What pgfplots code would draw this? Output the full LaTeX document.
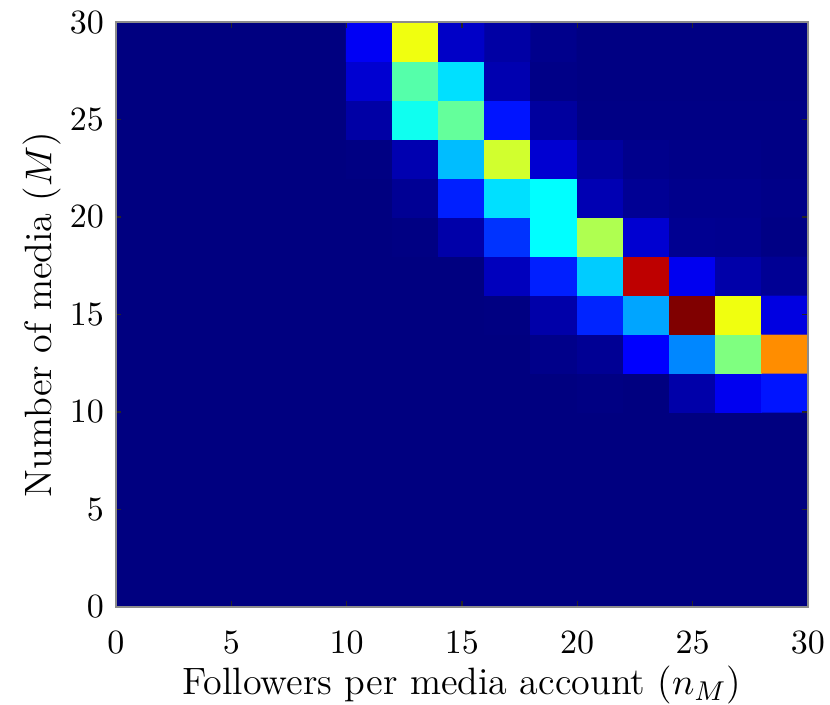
\documentclass[border=0pt]{standalone}
\usepackage{pgfplots}
\pgfplotsset{compat=1.18}
\begin{document}
\begin{tikzpicture}
\begin{axis}[
  scale only axis,
  width=203.5pt, height=172pt,
  xmin=0, xmax=30, ymin=0, ymax=30,
  enlargelimits=false,
  xtick={0,5,...,30}, ytick={0,5,...,30},
  tick align=inside,
  major tick length=1.6pt,
  tick style={black!85, line width=0.4pt},
  axis line style={black!45, line width=0.5pt},
  axis on top,
  colormap/jet,
  point meta min=0, point meta max=1,
  xticklabel style={yshift=-3.8pt},
  label style={font=\fontsize{11.2pt}{13.4pt}\selectfont},
  xlabel={Followers per media account ($n_M$)},
  ylabel={Number of media ($M$)},
  xlabel style={at={(axis description cs:0.5,-0.1504)}, anchor=base},
  ylabel style={at={(axis description cs:-0.0932,0.5)}, anchor=base},
]
\addplot[matrix plot*, mesh/cols=15, point meta=explicit] coordinates {
(1,1)[0] (3,1)[0] (5,1)[0] (7,1)[0] (9,1)[0] (11,1)[0] (13,1)[0] (15,1)[0] (17,1)[0] (19,1)[0] (21,1)[0] (23,1)[0] (25,1)[0] (27,1)[0] (29,1)[0]

(1,3)[0] (3,3)[0] (5,3)[0] (7,3)[0] (9,3)[0] (11,3)[0] (13,3)[0] (15,3)[0] (17,3)[0] (19,3)[0] (21,3)[0] (23,3)[0] (25,3)[0] (27,3)[0] (29,3)[0]

(1,5)[0] (3,5)[0] (5,5)[0] (7,5)[0] (9,5)[0] (11,5)[0] (13,5)[0] (15,5)[0] (17,5)[0] (19,5)[0] (21,5)[0] (23,5)[0] (25,5)[0] (27,5)[0] (29,5)[0]

(1,7)[0] (3,7)[0] (5,7)[0] (7,7)[0] (9,7)[0] (11,7)[0] (13,7)[0] (15,7)[0] (17,7)[0] (19,7)[0] (21,7)[0] (23,7)[0] (25,7)[0] (27,7)[0] (29,7)[0]

(1,9)[0] (3,9)[0] (5,9)[0] (7,9)[0] (9,9)[0] (11,9)[0] (13,9)[0] (15,9)[0] (17,9)[0] (19,9)[0] (21,9)[0] (23,9)[0] (25,9)[0] (27,9)[0] (29,9)[0]

(1,11)[0] (3,11)[0] (5,11)[0] (7,11)[0] (9,11)[0] (11,11)[0] (13,11)[0] (15,11)[0] (17,11)[0] (19,11)[0] (21,11)[0.003] (23,11)[0] (25,11)[0.04] (27,11)[0.11] (29,11)[0.145]

(1,13)[0] (3,13)[0] (5,13)[0] (7,13)[0] (9,13)[0] (11,13)[0] (13,13)[0] (15,13)[0] (17,13)[0] (19,13)[0.01] (21,13)[0.02] (23,13)[0.125] (25,13)[0.257] (27,13)[0.5] (29,13)[0.737]

(1,15)[0] (3,15)[0] (5,15)[0] (7,15)[0] (9,15)[0] (11,15)[0] (13,15)[0] (15,15)[0] (17,15)[0.002] (19,15)[0.04] (21,15)[0.16] (23,15)[0.287] (25,15)[1.0] (27,15)[0.61] (29,15)[0.095]

(1,17)[0] (3,17)[0] (5,17)[0] (7,17)[0] (9,17)[0] (11,17)[0] (13,17)[0] (15,17)[0] (17,17)[0.06] (19,17)[0.155] (21,17)[0.325] (23,17)[0.939] (25,17)[0.11] (27,17)[0.04] (29,17)[0.02]

(1,19)[0] (3,19)[0] (5,19)[0] (7,19)[0] (9,19)[0] (11,19)[0] (13,19)[0.003] (15,19)[0.04] (17,19)[0.175] (19,19)[0.375] (21,19)[0.547] (23,19)[0.08] (25,19)[0.017] (27,19)[0.015] (29,19)[0.005]

(1,21)[0] (3,21)[0] (5,21)[0] (7,21)[0] (9,21)[0] (11,21)[0] (13,21)[0.02] (15,21)[0.155] (17,21)[0.345] (19,21)[0.375] (21,21)[0.05] (23,21)[0.02] (25,21)[0.012] (27,21)[0.012] (29,21)[0.008]

(1,23)[0] (3,23)[0] (5,23)[0] (7,23)[0] (9,23)[0] (11,23)[0.003] (13,23)[0.047] (15,23)[0.31] (17,23)[0.58] (19,23)[0.08] (21,23)[0.03] (23,23)[0.012] (25,23)[0.008] (27,23)[0.008] (29,23)[0.005]

(1,25)[0] (3,25)[0] (5,25)[0] (7,25)[0] (9,25)[0] (11,25)[0.036] (13,25)[0.39] (15,25)[0.473] (17,25)[0.145] (19,25)[0.03] (21,25)[0.005] (23,25)[0.005] (25,25)[0.005] (27,25)[0.005] (29,25)[0.005]

(1,27)[0] (3,27)[0] (5,27)[0] (7,27)[0] (9,27)[0] (11,27)[0.08] (13,27)[0.458] (15,27)[0.345] (17,27)[0.047] (19,27)[0.007] (21,27)[0.003] (23,27)[0.003] (25,27)[0.003] (27,27)[0.003] (29,27)[0.003]

(1,29)[0] (3,29)[0] (5,29)[0] (7,29)[0] (9,29)[0] (11,29)[0.115] (13,29)[0.61] (15,29)[0.07] (17,29)[0.035] (19,29)[0.012] (21,29)[0.003] (23,29)[0.003] (25,29)[0.003] (27,29)[0.003] (29,29)[0.003]
};
\coordinate (sw) at (rel axis cs:0,0);
\coordinate (ne) at (rel axis cs:1,1);
\end{axis}
\pgfresetboundingbox
\path ([shift={(-34.1pt,-28.8pt)}]sw) rectangle ([shift={(6.5pt,6.5pt)}]ne);
\end{tikzpicture}
\end{document}
